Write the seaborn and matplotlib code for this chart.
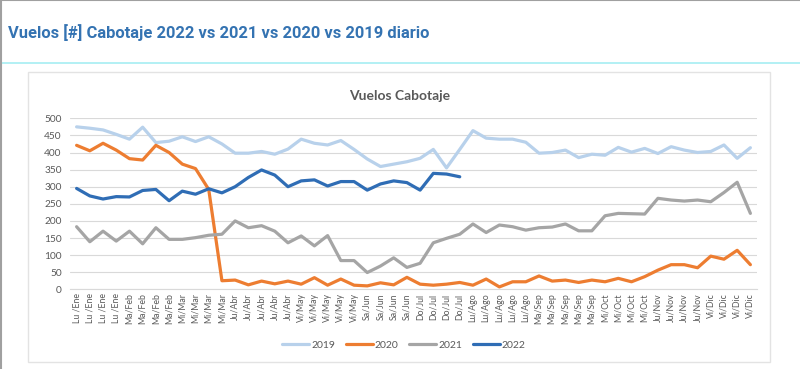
import pandas as pd
import seaborn as sns
import matplotlib.pyplot as plt
from matplotlib.patches import Rectangle
from matplotlib.lines import Line2D

# etiquetas semanales del eje x
semanas = (["Lu /Ene"] * 4 + ["Ma/Feb"] * 4 + ["Mi/Mar"] * 4 + ["Ju/Abr"] * 5 +
           ["Vi/May"] * 5 + ["Sa/Jun"] * 4 + ["Do/Jul"] * 4 + ["Lu/Ago"] * 5 +
           ["Ma/Sep"] * 5 + ["Mi/Oct"] * 4 + ["Ju/Nov"] * 4 + ["Vi/Dic"] * 4)

vuelos_2019 = [475, 471, 466, 453, 439, 474, 429, 433, 446, 432, 446, 425, 398, 398,
               403, 395, 410, 439, 427, 422, 435, 409, 381, 359, 366, 373, 383, 409,
               355, 409, 464, 442, 439, 439, 430, 398, 400, 407, 385, 395, 392, 415,
               401, 412, 397, 417, 407, 400, 403, 422, 383, 414]
vuelos_2020 = [421, 405, 427, 407, 382, 378, 421, 400, 366, 353, 292, 25, 27, 13,
               24, 16, 24, 15, 34, 12, 30, 12, 10, 19, 13, 35, 15, 12, 15, 20,
               12, 30, 7, 22, 22, 39, 24, 27, 20, 27, 22, 32, 22, 37, 56, 72,
               72, 63, 97, 88, 114, 72]
vuelos_2021 = [183, 139, 170, 141, 170, 133, 180, 146, 146, 151, 158, 161, 200, 180,
               186, 170, 136, 156, 127, 157, 84, 84, 49, 68, 92, 64, 76, 136,
               149, 161, 191, 166, 188, 183, 173, 180, 182, 191, 171, 171, 215, 222,
               221, 220, 266, 261, 258, 261, 256, 283, 313, 222]
vuelos_2022 = [295, 273, 264, 271, 270, 289, 292, 259, 287, 278, 294, 282, 300, 327,
               349, 334, 300, 317, 320, 302, 315, 315, 290, 308, 317, 312, 290, 339,
               337, 329]

anios = ["2019", "2020", "2021", "2022"]
colores = ["#B8D1EB", "#ED7D31", "#A5A5A5", "#2F6DB5"]

series = {"2019": vuelos_2019, "2020": vuelos_2020, "2021": vuelos_2021, "2022": vuelos_2022}
filas = []
for anio, valores in series.items():
    for i, v in enumerate(valores):
        filas.append({"semana": i, "anio": anio, "vuelos": v})
df = pd.DataFrame(filas)

sns.set_style("white")
plt.rcParams["font.family"] = ["Lato", "DejaVu Sans"]

fig = plt.figure(figsize=(8, 3.69), dpi=100)

# marco y linea bajo el titulo
fig.add_artist(Line2D([0, 1], [1 - 63 / 369] * 2, transform=fig.transFigure,
                      color="#A6EEF2", lw=1.2))
fig.add_artist(Line2D([0, 1], [0.999, 0.999], transform=fig.transFigure, color="#A0A0A0", lw=1.5))
fig.add_artist(Line2D([0.001, 0.001], [0, 1], transform=fig.transFigure, color="#A0A0A0", lw=1.5))
fig.add_artist(Rectangle((28 / 800, 1 - 362 / 369), 742 / 800, 290 / 369,
                         transform=fig.transFigure, facecolor="white",
                         edgecolor="#E3E3E3", lw=1, zorder=-5))

fig.text(8 / 800, 1 - 33 / 369, "Vuelos [#] Cabotaje 2022 vs 2021 vs 2020 vs 2019 diario",
         family=["Roboto", "DejaVu Sans"], fontweight="bold",
         fontsize=11.9, color="#3473B2", va="center", ha="left")

ax = fig.add_axes([70 / 800, 1 - 289.3 / 369, 687 / 800, 171 / 369])
ax.set_zorder(2)
ax.patch.set_alpha(0)
sns.lineplot(data=df, x="semana", y="vuelos", hue="anio", palette=colores,
             hue_order=anios, linewidth=2.3, ax=ax, legend=False)

ax.set_xlim(-0.5, len(semanas) - 0.5)
ax.set_ylim(0, 500)
ax.set_yticks(range(0, 501, 50))
ax.set_xticks(range(len(semanas)))
ax.set_xticklabels(semanas, rotation=90, fontsize=6.3, color="#595959")
ax.tick_params(axis="y", labelsize=7.3, colors="#595959", length=0, pad=6)
ax.tick_params(axis="x", length=0, pad=3)
ax.set_xlabel("")
ax.set_ylabel("")
ax.grid(axis="y", color="#D9D9D9", lw=0.8)
ax.set_axisbelow(True)
for s in ["top", "right", "left"]:
    ax.spines[s].set_visible(False)
ax.spines["bottom"].set_color("#D9D9D9")

fig.text(400 / 800, 1 - 96 / 369, "Vuelos Cabotaje", ha="center", va="center",
         fontsize=10, fontweight="bold", color="#595959")

handles = [Line2D([], [], color=c, lw=2.3) for c in colores]
fig.legend(handles, anios, loc="center", bbox_to_anchor=(404 / 800, 1 - 345 / 369),
           ncol=4, frameon=False, fontsize=7.5, labelcolor="#595959",
           handlelength=2.6, handletextpad=0.2, columnspacing=1.0)

fig.savefig("out.png", dpi=100)
